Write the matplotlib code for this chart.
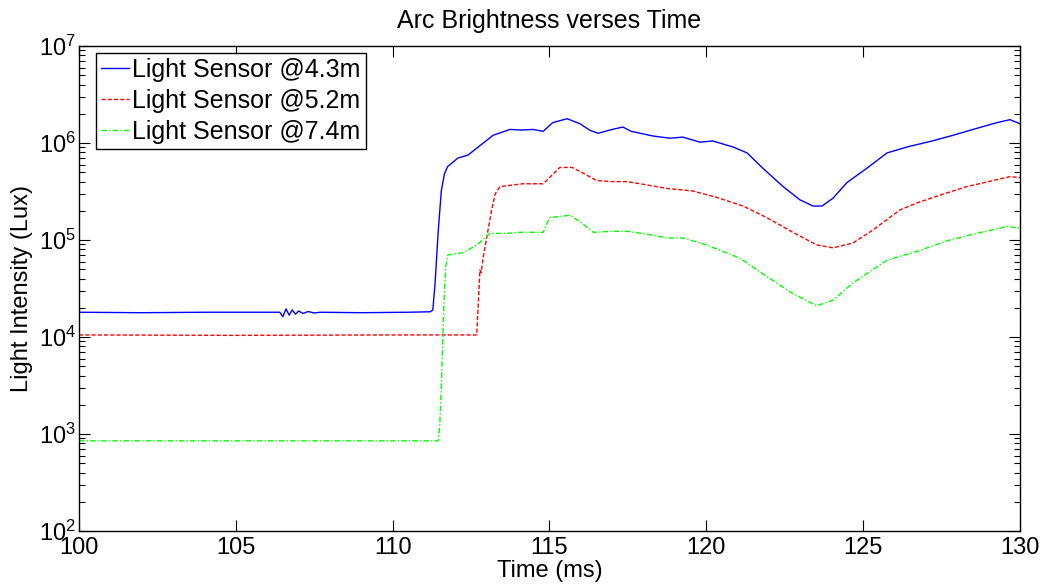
import matplotlib
matplotlib.use("Agg")
import matplotlib.pyplot as plt
from matplotlib.ticker import LogLocator, NullFormatter, MultipleLocator

plt.rcParams["font.family"] = ["Liberation Sans", "DejaVu Sans"]

# Light Sensor @4.3m (blue, solid)
t_43 = [100.0, 102.0, 104.0, 106.3, 106.4, 106.5, 106.6, 106.7, 106.8, 106.9,
        107.0, 107.15, 107.3, 107.5, 107.7, 109.0, 110.5, 111.2, 111.28, 111.35,
        111.45, 111.55, 111.65, 111.75, 112.08, 112.4, 112.69, 113.2, 113.74, 114.1,
        114.47, 114.8, 115.1, 115.56, 115.97, 116.29, 116.55, 117.0, 117.34, 117.6,
        118.3, 118.84, 119.25, 119.8, 120.2, 120.85, 121.3, 121.8, 122.45, 122.98,
        123.4, 123.69, 124.04, 124.48, 125.12, 125.76, 126.4, 127.2, 127.86, 128.5,
        129.26, 129.68, 130.0]
lux_43 = [1.8e4, 1.78e4, 1.8e4, 1.8e4, 1.8e4, 1.62e4, 1.95e4, 1.68e4, 1.9e4, 1.72e4,
          1.85e4, 1.75e4, 1.83e4, 1.77e4, 1.8e4, 1.78e4, 1.8e4, 1.82e4, 1.9e4, 3.5e4,
          1.2e5, 3.2e5, 4.8e5, 5.7e5, 7.0e5, 7.5e5, 8.9e5, 1.2e6, 1.38e6, 1.36e6,
          1.38e6, 1.32e6, 1.62e6, 1.78e6, 1.58e6, 1.35e6, 1.26e6, 1.38e6, 1.46e6, 1.32e6,
          1.18e6, 1.12e6, 1.15e6, 1.02e6, 1.05e6, 9.1e5, 7.9e5, 5.5e5, 3.55e5, 2.6e5,
          2.24e5, 2.24e5, 2.7e5, 3.9e5, 5.5e5, 7.9e5, 9.1e5, 1.05e6, 1.2e6, 1.38e6,
          1.62e6, 1.74e6, 1.58e6]

# Light Sensor @5.2m (red, dashed)
t_52 = [100.0, 105.0, 110.0, 112.68, 112.75, 112.78, 112.82, 112.9, 113.0, 113.15,
        113.27, 113.42, 114.15, 114.8, 115.33, 115.72, 116.07, 116.5, 117.0, 117.47,
        118.1, 118.74, 119.57, 120.33, 121.17, 121.93, 122.76, 123.52, 124.04, 124.67,
        125.3, 126.17, 126.7, 127.45, 128.3, 129.14, 129.68, 130.0]
lux_52 = [1.05e4, 1.04e4, 1.05e4, 1.05e4, 3.0e4, 4.9e4, 4.6e4, 7.0e4, 1.07e5, 2.0e5,
          3.0e5, 3.55e5, 3.8e5, 3.8e5, 5.6e5, 5.6e5, 4.9e5, 4.1e5, 4.0e5, 4.0e5,
          3.7e5, 3.4e5, 3.2e5, 2.75e5, 2.24e5, 1.7e5, 1.2e5, 8.9e4, 8.3e4, 9.3e4,
          1.26e5, 2.04e5, 2.4e5, 2.9e5, 3.55e5, 4.1e5, 4.5e5, 4.4e5]

# Light Sensor @7.4m (green, dash-dot)
t_74 = [100.0, 105.0, 110.0, 111.45, 111.5, 111.55, 111.6, 111.65, 111.7, 111.76,
        112.24, 112.69, 113.1, 113.64, 114.06, 114.8, 115.0, 115.65, 115.97, 116.4,
        117.0, 117.47, 118.1, 118.74, 119.25, 120.0, 121.07, 121.93, 122.76, 123.52,
        124.04, 124.67, 125.76, 126.7, 127.76, 128.62, 129.58, 130.0]
lux_74 = [8.5e2, 8.5e2, 8.5e2, 8.5e2, 1.2e3, 3.0e3, 1.0e4, 3.0e4, 5.5e4, 7.0e4,
          7.4e4, 8.9e4, 1.17e5, 1.17e5, 1.2e5, 1.2e5, 1.7e5, 1.8e5, 1.55e5, 1.2e5,
          1.23e5, 1.23e5, 1.15e5, 1.05e5, 1.05e5, 8.9e4, 6.5e4, 4.2e4, 2.8e4, 2.1e4,
          2.4e4, 3.6e4, 6.2e4, 7.6e4, 1.0e5, 1.17e5, 1.38e5, 1.32e5]

labels = ["Light Sensor @4.3m", "Light Sensor @5.2m", "Light Sensor @7.4m"]

FS = 17

fig = plt.figure(figsize=(10.47, 5.88), dpi=100)
ax = fig.add_axes([79 / 1047, 1 - 531 / 588, (1020 - 79) / 1047, (531 - 46) / 588])

ax.plot(t_43, lux_43, color="#0000ff", lw=1.0, ls="-", label=labels[0])
ax.plot(t_52, lux_52, color="#ff0000", lw=1.0, ls=(0, (3, 1.5)), label=labels[1])
ax.plot(t_74, lux_74, color="#00ff00", lw=1.0, ls=(0, (4, 1.5, 1, 1.5)), label=labels[2])

ax.set_yscale("log")
ax.set_xlim(100, 130)
ax.set_ylim(1e2, 1e7)
ax.xaxis.set_major_locator(MultipleLocator(5))
ax.yaxis.set_major_locator(LogLocator(base=10, numticks=10))
ax.yaxis.set_minor_locator(LogLocator(base=10, subs=range(2, 10), numticks=20))
ax.yaxis.set_minor_formatter(NullFormatter())

ax.tick_params(which="both", direction="in", top=True, right=True, labelsize=FS)
ax.tick_params(which="major", length=8, width=0.8, pad=4)
ax.tick_params(axis="y", which="major", pad=2)
ax.tick_params(which="minor", length=4, width=0.8)
for s in ax.spines.values():
    s.set_linewidth(1.0)

ax.set_title("Arc Brightness verses Time", fontsize=18, pad=13)
ax.set_xlabel("Time (ms)", fontsize=FS, labelpad=1)
ax.set_ylabel("Light Intensity (Lux)", fontsize=FS, labelpad=4)

leg = ax.legend(loc="upper left", bbox_to_anchor=(17 / 941, 1 - 7 / 485),
                borderaxespad=0, fontsize=18, fancybox=False, edgecolor="black",
                framealpha=1, handlelength=1.1, handletextpad=0.15, borderpad=0.2,
                labelspacing=0.28)
leg.get_frame().set_linewidth(1.0)

fig.savefig("out.png", dpi=100)
